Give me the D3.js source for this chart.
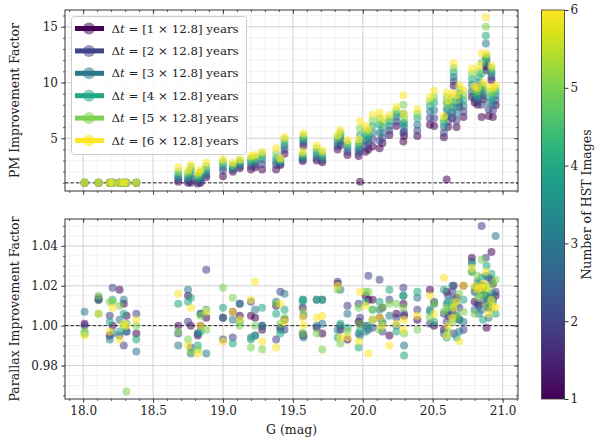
<!DOCTYPE html>
<html><head><meta charset="utf-8">
<script src="https://cdn.jsdelivr.net/npm/d3@7"></script>
<style>
body{margin:0;background:#fff;}
text{font-family:"DejaVu Serif",serif;fill:#222;}
</style></head>
<body><svg id="c" width="595" height="440"></svg>
<script>
// ---------------- data ----------------
const gMag = [18.01,18.11,18.19,18.21,18.26,18.29,18.31,18.38,
  18.68,18.75,18.77,18.82,18.84,18.88,19.00,19.07,19.12,19.20,19.23,19.28,19.38,19.41,19.44,
  19.57,19.575,19.67,19.71,19.82,19.84,19.89,19.97,19.98,20.02,20.04,20.07,20.12,20.14,20.19,20.24,
  20.29,20.295,20.39,20.48,20.51,20.58,20.60,20.61,20.64,20.65,20.67,20.69,20.72,20.78,20.80,20.83,
  20.85,20.88,20.885,20.92,20.93,20.95,20.82,20.86,20.90];

// PM improvement factor, one row per star, columns = Δt multiplier 1..6
const pmFactor = [
 [1,1,1,1,1,1],[1,1,1,1,1,1],[1,1,1,1,1,1],[1,1,1,1,1,1],
 [1,1,1,1,1,1],[1,1,1,1,1,1],[1,1,1,1,1,1],[1,1,1,1,1,1],
 [1.1,1.3,1.5,1.7,2.0,2.4],[1.0,1.2,1.4,1.6,1.9,2.1],[1.0,1.4,1.7,2.1,2.4,2.6],
 [0.95,1.1,1.3,1.5,1.7,1.9],[1.0,1.2,1.5,1.7,2.0,2.2],[1.5,1.7,1.9,2.2,2.5,2.8],
 [1.6,2.1,2.4,2.7,2.9,3.1],[2.0,2.2,2.3,2.5,2.6,2.8],[2.3,2.5,2.7,2.8,3.0,3.1],
 [2.2,2.5,2.8,3.0,3.2,3.4],[2.4,2.6,2.9,3.1,3.3,3.5],[2.2,2.7,3.1,3.4,3.6,3.8],
 [2.2,2.6,2.9,3.2,3.6,4.1],[2.6,2.7,2.9,3.0,3.1,3.2],[3.6,4.0,4.3,4.6,4.9,5.1],
 [2.97,3.1,3.2,3.4,3.6,3.8],[4.3,4.6,4.8,5.0,5.2,5.45],[3.0,3.2,3.5,3.8,4.1,4.35],
 [2.85,3.0,3.2,3.4,3.7,3.9],[4.0,4.3,4.6,4.9,5.1,5.3],[4.4,4.7,5.0,5.3,5.5,5.75],
 [3.5,3.8,4.1,4.4,4.6,4.85],[3.4,3.7,4.0,4.3,4.6,4.9],[1.1,4.0,4.6,5.3,5.9,6.5],
 [3.8,4.3,4.8,5.2,5.7,6.1],[4.0,4.5,4.9,5.3,5.6,5.8],[4.25,4.9,5.5,6.1,6.6,7.1],
 [4.1,4.8,5.5,6.2,6.8,7.3],[4.55,5.0,5.5,6.0,6.4,6.8],[5.3,5.7,6.1,6.5,6.8,7.1],
 [6.1,6.5,6.9,7.2,7.5,7.8],[4.7,5.5,6.3,7.2,8.0,8.85],[5.2,5.6,6.0,6.4,6.8,7.2],
 [5.2,5.7,6.2,6.8,7.2,7.6],[6.2,6.8,7.4,7.9,8.3,8.7],[6.1,6.8,7.5,8.2,8.7,9.25],
 [5.1,5.5,6.0,6.4,6.7,7.0],[1.3,7.0,7.6,8.2,8.7,9.1],[6.0,6.5,7.0,7.5,8.0,8.4],
 [6.8,7.3,7.8,8.2,8.6,9.0],[9.7,10.1,10.5,10.9,11.3,11.75],[6.0,6.6,7.2,7.8,8.4,8.9],
 [7.8,8.2,8.6,9.0,9.4,9.76],[6.9,7.4,7.9,8.4,8.9,9.3],[8.7,9.2,9.8,10.3,10.8,11.25],
 [8.2,8.5,8.8,9.1,9.4,9.67],[9.0,9.5,10.0,10.5,11.0,11.45],[6.9,8.0,9.5,10.8,11.8,12.6],
 [11.5,12.2,13.5,14.2,15.0,15.85],[11.1,11.4,11.8,12.1,12.4,12.6],[10.2,10.5,10.8,11.0,11.3,11.5],
 [6.9,7.5,8.1,8.6,9.1,9.5],[7.97,8.4,8.8,9.2,9.5,9.76],
 [8.0,8.3,8.6,8.9,9.2,9.5],[8.5,8.8,9.1,9.4,9.7,10.0],[7.0,7.6,8.2,8.7,9.2,9.6]
];

// Parallax improvement factor, one row per star, columns = Δt multiplier 1..6
const plxFactor = [
 [1.001,1.000,1.007,0.996,0.997,0.995],[1.013,1.014,1.013,1.006,1.015,1.006],
 [0.995,1.005,0.993,1.002,1.012,0.997],[1.000,1.019,0.996,1.013,1.012,1.009],
 [1.018,0.995,1.003,0.997,1.010,0.993],[1.011,0.990,1.013,1.006,1.000,1.001],
 [1.005,0.997,0.997,1.001,0.967,1.000],[0.996,1.006,0.987,0.993,1.000,1.003],
 [1.000,0.996,0.990,1.011,0.997,1.016],[1.015,1.002,1.018,1.012,0.993,0.990],
 [1.000,0.989,0.986,1.014,0.987,1.009],[0.995,0.996,0.996,0.990,0.988,0.986],
 [1.000,1.006,1.006,0.997,1.005,1.000],[1.004,1.028,0.986,1.008,0.998,1.007],
 [1.004,0.993,1.004,1.009,1.019,0.992],[1.007,0.994,1.003,0.991,1.014,1.007],
 [1.005,1.011,1.011,1.002,1.000,1.003],[1.005,1.012,0.994,0.993,0.989,1.013],
 [1.004,0.995,1.008,0.995,1.000,1.022],[0.998,1.000,1.000,1.009,0.988,0.992],
 [1.010,0.993,1.012,1.006,1.011,0.989],[0.999,1.017,0.998,0.996,1.001,1.011],
 [1.003,0.998,1.016,1.008,1.004,1.002],[1.009,0.996,1.013,1.012,0.996,1.004],
 [0.995,1.005,0.994,1.013,1.007,1.000],[0.999,1.013,1.000,1.013,0.996,1.004],
 [0.996,1.013,1.001,1.013,0.988,1.005],[1.021,1.022,0.998,0.994,1.018,1.020],
 [0.998,1.000,1.018,1.001,0.991,0.994],[0.993,1.010,1.006,0.999,0.997,0.994],
 [1.002,1.011,0.996,0.989,1.009,0.992],[1.001,1.004,0.995,0.998,1.001,1.017],
 [1.015,1.000,0.997,1.012,1.017,1.010],[1.013,1.025,0.998,1.000,1.017,0.986],
 [1.013,0.999,1.003,1.008,1.008,1.003],[1.004,1.023,1.008,1.012,0.998,1.004],
 [1.009,0.997,1.001,1.002,1.009,1.000],[0.995,1.013,1.005,1.018,1.011,0.990],
 [1.006,1.004,1.000,0.997,1.011,1.001],[1.011,1.019,1.015,1.015,1.009,0.998],
 [1.005,1.006,0.990,0.985,0.996,1.003],[1.003,1.008,1.014,1.017,0.998,1.005],
 [1.018,1.001,1.008,1.007,1.004,1.015],[1.000,1.012,1.011,1.002,1.011,1.006],
 [0.998,1.006,0.996,1.018,1.007,1.024],[1.017,1.002,1.011,0.994,1.009,0.995],
 [1.005,1.015,1.007,1.012,0.997,1.000],[1.007,1.017,1.020,1.009,1.002,1.004],
 [1.020,0.996,1.013,1.004,1.011,1.009],[1.014,1.005,1.011,0.994,1.005,1.012],
 [1.003,1.009,0.997,1.003,1.016,0.992],[1.020,0.998,1.002,1.013,1.007,1.020],
 [1.034,1.032,1.027,1.031,1.027,1.029],[1.012,1.017,1.008,1.019,1.006,1.020],
 [1.010,1.018,1.006,1.021,1.014,1.019],[1.018,1.050,1.008,1.024,1.033,1.019],
 [1.015,1.034,1.025,1.015,1.020,1.027],[0.999,1.011,1.015,1.030,1.010,1.019],
 [1.037,1.023,1.014,1.026,1.008,1.013],[1.021,1.013,1.016,1.012,1.021,1.010],
 [1.015,1.017,1.045,1.006,1.023,1.009],
 [1.019,1.011,1.022,1.016,1.025,1.018],[1.020,1.013,1.018,1.003,1.016,1.021],
 [1.009,1.024,1.004,1.012,1.018,1.006]
];

const nImages = [1,2,3,4,5,6];
const legendLabels = ["1","2","3","4","5","6"];
const xTicks = [18.0,18.5,19.0,19.5,20.0,20.5,21.0];
const pmTicks = [5,10,15];
const plxTicks = [0.98,1.00,1.02,1.04];
const cbTicks = [1,2,3,4,5,6];

// ---------------- layout ----------------
const svg = d3.select("#c");
const L = 65, R = 518;
const top1 = 10, bot1 = 191, top2 = 219, bot2 = 399;
const x = d3.scaleLinear().domain([17.87, 21.11]).range([L, R]);
const yPM = d3.scaleLinear().domain([0.27, 16.5]).range([bot1, top1]);
const yPX = d3.scaleLinear().domain([0.9632, 1.0535]).range([bot2, top2]);
const color = d3.scaleSequential(d3.interpolateViridis).domain([1, 6]);

const xMinor = d3.range(179, 212).map(v => v / 10);
const pmMinor = d3.range(1, 17);
const plxMinor = d3.range(193, 211).map(v => v * 0.005);

function panel(y, yt, yMinor, t, b) {
  const g = svg.append("g");
  g.selectAll(null).data(xMinor).enter().append("line")
    .attr("x1", d => x(d)).attr("x2", d => x(d)).attr("y1", t).attr("y2", b)
    .attr("stroke", "#efefef").attr("stroke-width", 0.8);
  g.selectAll(null).data(yMinor.filter(v => y(v) > t && y(v) < b)).enter().append("line")
    .attr("x1", L).attr("x2", R).attr("y1", d => y(d)).attr("y2", d => y(d))
    .attr("stroke", "#efefef").attr("stroke-width", 0.8);
  g.selectAll(null).data(xTicks).enter().append("line")
    .attr("x1", d => x(d)).attr("x2", d => x(d)).attr("y1", t).attr("y2", b)
    .attr("stroke", "#d6d6d6").attr("stroke-width", 1);
  g.selectAll(null).data(yt).enter().append("line")
    .attr("x1", L).attr("x2", R).attr("y1", d => y(d)).attr("y2", d => y(d))
    .attr("stroke", "#d6d6d6").attr("stroke-width", 1);
  return g;
}

function axes(y, yt, yMinor, t, b, fmt, showX) {
  const g = svg.append("g");
  const yMinorIn = yMinor.filter(v => y(v) >= t && y(v) <= b);
  const xMinorIn = xMinor.filter(v => x(v) >= L && x(v) <= R);
  g.append("g").attr("transform", `translate(${L},0)`)
    .call(d3.axisLeft(y).tickValues(yt).tickSize(4).tickPadding(3).tickFormat(fmt))
    .call(a => a.select(".domain").remove());
  g.append("g").attr("transform", `translate(${L},0)`)
    .call(d3.axisLeft(y).tickValues(yMinorIn).tickSize(2).tickFormat(""))
    .call(a => a.select(".domain").remove());
  g.append("g").attr("transform", `translate(${R},0)`)
    .call(d3.axisRight(y).tickValues(yt).tickSize(-4).tickFormat(""))
    .call(a => a.select(".domain").remove());
  g.append("g").attr("transform", `translate(${R},0)`)
    .call(d3.axisRight(y).tickValues(yMinorIn).tickSize(-2).tickFormat(""))
    .call(a => a.select(".domain").remove());
  g.append("g").attr("transform", `translate(0,${b})`)
    .call(d3.axisBottom(x).tickValues(xTicks).tickSize(4).tickPadding(3)
      .tickFormat(showX ? d3.format(".1f") : ""))
    .call(a => a.select(".domain").remove());
  g.append("g").attr("transform", `translate(0,${b})`)
    .call(d3.axisBottom(x).tickValues(xMinorIn).tickSize(2).tickFormat(""))
    .call(a => a.select(".domain").remove());
  g.append("g").attr("transform", `translate(0,${t})`)
    .call(d3.axisTop(x).tickValues(xTicks).tickSize(-4).tickFormat(""))
    .call(a => a.select(".domain").remove());
  g.append("g").attr("transform", `translate(0,${t})`)
    .call(d3.axisTop(x).tickValues(xMinorIn).tickSize(-2).tickFormat(""))
    .call(a => a.select(".domain").remove());
  g.selectAll(".tick text").style("font-family", "'DejaVu Serif',serif").style("font-size", "12px").attr("fill", "#222");
  g.selectAll(".tick line").attr("stroke", "#333").attr("stroke-width", 0.8);
  g.append("rect").attr("x", L).attr("y", t).attr("width", R - L).attr("height", b - t)
    .attr("fill", "none").attr("stroke", "#333").attr("stroke-width", 1);
}

panel(yPM, pmTicks, pmMinor, top1, bot1);
panel(yPX, plxTicks, plxMinor, top2, bot2);

svg.append("line").attr("x1", L).attr("x2", R).attr("y1", yPM(1)).attr("y2", yPM(1))
  .attr("stroke", "#222").attr("stroke-width", 1).attr("stroke-dasharray", "3.5,2");
svg.append("line").attr("x1", L).attr("x2", R).attr("y1", yPX(1)).attr("y2", yPX(1))
  .attr("stroke", "#222").attr("stroke-width", 1).attr("stroke-dasharray", "3.5,2");

const r = 4, op = 0.55;
const topPts = svg.append("g");
const botPts = svg.append("g");
nImages.forEach((n, k) => {
  topPts.selectAll(null).data(gMag).enter().append("circle")
    .attr("cx", d => x(d)).attr("cy", (d, i) => yPM(pmFactor[i][k])).attr("r", r)
    .attr("fill", color(n)).attr("fill-opacity", op);
  botPts.selectAll(null).data(gMag).enter().append("circle")
    .attr("cx", d => x(d)).attr("cy", (d, i) => yPX(plxFactor[i][k])).attr("r", r)
    .attr("fill", color(n)).attr("fill-opacity", op);
});

axes(yPM, pmTicks, pmMinor, top1, bot1, d3.format("d"), false);
axes(yPX, plxTicks, plxMinor, top2, bot2, d3.format(".2f"), true);

svg.append("text").attr("transform", `translate(19,${(top1 + bot1) / 2}) rotate(-90)`)
  .attr("text-anchor", "middle").style("font-size", "12.5px").text("PM Improvement Factor");
svg.append("text").attr("transform", `translate(19,${(top2 + bot2) / 2}) rotate(-90)`)
  .attr("text-anchor", "middle").style("font-size", "12.5px").text("Parallax Improvement Factor");
svg.append("text").attr("x", (L + R) / 2).attr("y", 434).attr("text-anchor", "middle")
  .style("font-size", "12.5px").text("G (mag)");

// legend
const lg = svg.append("g");
lg.append("rect").attr("x", 71.5).attr("y", 16.5).attr("width", 175).attr("height", 138)
  .attr("rx", 3).attr("fill", "#fff").attr("fill-opacity", 0.85).attr("stroke", "#ccc");
nImages.forEach((n, k) => {
  const yy = 28.5 + k * 22.4;
  lg.append("line").attr("x1", 75).attr("x2", 104).attr("y1", yy).attr("y2", yy)
    .attr("stroke", color(n)).attr("stroke-width", 5);
  lg.append("circle").attr("cx", 89).attr("cy", yy).attr("r", 6)
    .attr("fill", color(n)).attr("fill-opacity", op);
  const t = lg.append("text").attr("x", 111.5).attr("y", yy + 4).style("font-size", "11.8px");
  t.append("tspan").text("Δ");
  t.append("tspan").style("font-style", "italic").text("t");
  t.append("tspan").text(" = [" + legendLabels[k] + " × 12.8] years");
});

// colorbar
const cbX = 541.5, cbW = 23, cbT = 10, cbB = 399;
const defs = svg.append("defs");
const grad = defs.append("linearGradient").attr("id", "vir")
  .attr("x1", 0).attr("x2", 0).attr("y1", 1).attr("y2", 0);
d3.range(0, 1.0001, 0.05).forEach(s => {
  grad.append("stop").attr("offset", s).attr("stop-color", d3.interpolateViridis(s));
});
svg.append("rect").attr("x", cbX).attr("y", cbT).attr("width", cbW).attr("height", cbB - cbT)
  .attr("fill", "url(#vir)").attr("stroke", "#333").attr("stroke-width", 0.8);
const yCB = d3.scaleLinear().domain([1, 6]).range([cbB, cbT]);
const cbAxis = svg.append("g").attr("transform", `translate(${cbX + cbW},0)`)
  .call(d3.axisRight(yCB).tickValues(cbTicks).tickSize(4).tickPadding(2).tickFormat(d3.format("d")));
cbAxis.select(".domain").remove();
cbAxis.selectAll(".tick text").style("font-family", "'DejaVu Serif',serif").style("font-size", "12px").attr("fill", "#222");
cbAxis.selectAll(".tick line").attr("stroke", "#333");
svg.append("text").attr("transform", `translate(591,${(cbT + cbB) / 2}) rotate(-90)`)
  .attr("text-anchor", "middle").style("font-size", "12.5px").text("Number of HST Images");
</script></body></html>
